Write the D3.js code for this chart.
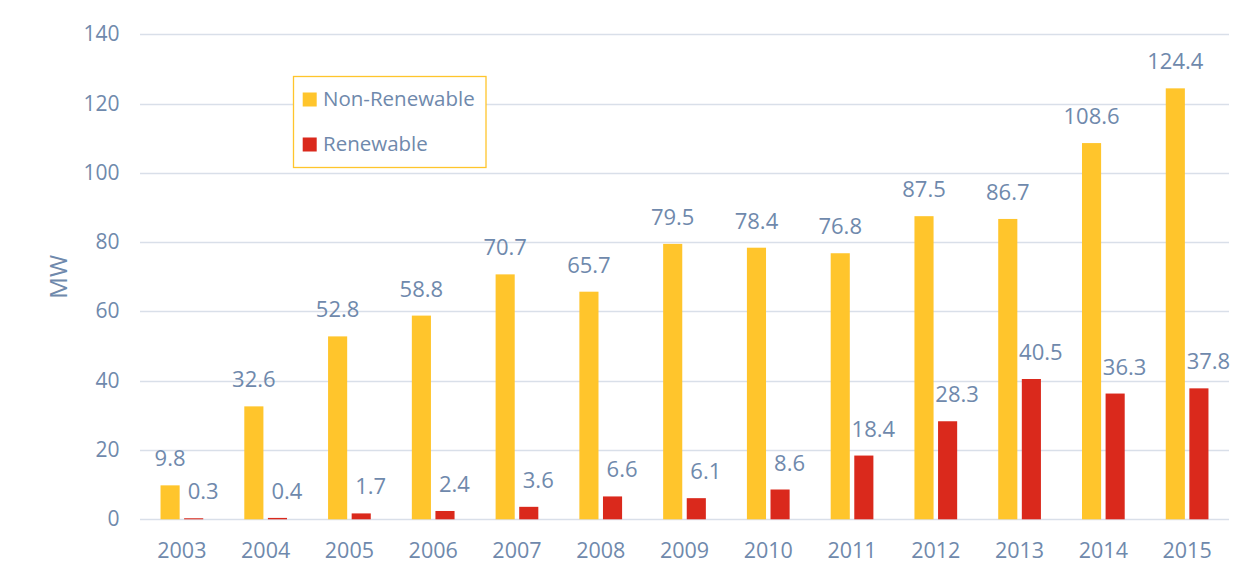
<!DOCTYPE html>
<html>
<head>
<meta charset="utf-8">
<script src="https://cdn.jsdelivr.net/npm/d3@7/dist/d3.min.js"></script>
<style>
  html, body { margin: 0; padding: 0; background: #ffffff; }
  svg { display: block; }
  text { font-family: "Open Sans", "Noto Sans", sans-serif; fill: #6f89ac; }
</style>
</head>
<body>
<svg id="chart" width="1254" height="577"></svg>
<script>
// Installed capacity by year (MW)
const years = ["2003", "2004", "2005", "2006", "2007", "2008", "2009", "2010", "2011", "2012", "2013", "2014", "2015"];
const nonRenewable = [9.8, 32.6, 52.8, 58.8, 70.7, 65.7, 79.5, 78.4, 76.8, 87.5, 86.7, 108.6, 124.4];
const renewable = [0.3, 0.4, 1.7, 2.4, 3.6, 6.6, 6.1, 8.6, 18.4, 28.3, 40.5, 36.3, 37.8];
const seriesNames = ["Non-Renewable", "Renewable"];
const seriesColors = ["#ffc52c", "#da291c"];
const yTicks = [0, 20, 40, 60, 80, 100, 120, 140];
const yLabel = "MW";

const svg = d3.select("#chart");
const plot = { left: 140, right: 1229, top: 34.3, bottom: 519.3 };

const x0 = d3.scaleBand().domain(years).range([plot.left, plot.right]).padding(0);
const x1 = d3.scaleBand().domain(seriesNames).range([0, x0.bandwidth()])
  .paddingInner(0.19).paddingOuter(0.87);
const y = d3.scaleLinear().domain([0, 140]).range([plot.bottom, plot.top]);

// horizontal gridlines
svg.append("g")
  .selectAll("line")
  .data(yTicks)
  .join("line")
  .attr("x1", plot.left).attr("x2", plot.right)
  .attr("y1", d => Math.round(y(d)) + 0.5).attr("y2", d => Math.round(y(d)) + 0.5)
  .attr("stroke", "#d9dfe9").attr("stroke-width", 1.3);

// y tick labels
svg.append("g")
  .selectAll("text")
  .data(yTicks)
  .join("text")
  .attr("x", 119.5)
  .attr("y", d => y(d) + 7)
  .attr("text-anchor", "end")
  .attr("font-size", 21)
  .text(d => d);

// y axis title
svg.append("text")
  .attr("transform", `translate(67,${(plot.top + plot.bottom) / 2}) rotate(-90)`)
  .attr("text-anchor", "middle")
  .attr("font-size", 24)
  .text(yLabel);

// x labels
svg.append("g")
  .selectAll("text")
  .data(years)
  .join("text")
  .attr("x", d => x0(d) + x0.bandwidth() / 2)
  .attr("y", 558.3)
  .attr("text-anchor", "middle")
  .attr("font-size", 21.5)
  .text(d => d);

const rows = years.map((yr, i) => ({ year: yr, values: [nonRenewable[i], renewable[i]] }));

const groups = svg.append("g")
  .selectAll("g")
  .data(rows)
  .join("g")
  .attr("transform", d => `translate(${x0(d.year)},0)`);

// bars
groups.selectAll("rect")
  .data(d => d.values.map((v, k) => ({ key: seriesNames[k], k, v })))
  .join("rect")
  .attr("x", d => x1(d.key))
  .attr("width", x1.bandwidth())
  .attr("y", d => y(d.v))
  .attr("height", d => y(0) - y(d.v))
  .attr("fill", d => seriesColors[d.k]);

// value labels
groups.selectAll("text")
  .data(d => d.values.map((v, k) => ({ key: seriesNames[k], k, v })))
  .join("text")
  .attr("x", d => x1(d.key) + x1.bandwidth() / 2 + (d.k === 1 ? 9.5 : 0))
  .attr("y", d => y(d.v) - 19)
  .attr("text-anchor", "middle")
  .attr("font-size", 22)
  .text(d => d.v.toFixed(1));

// legend
const legend = svg.append("g");
legend.append("rect")
  .attr("x", 293.5).attr("y", 76.5)
  .attr("width", 192.5).attr("height", 91)
  .attr("fill", "#ffffff")
  .attr("stroke", "#ffc52c").attr("stroke-width", 1.3);
const legendRows = [106, 151];
seriesNames.forEach((name, k) => {
  legend.append("rect")
    .attr("x", 302.7).attr("y", legendRows[k] - 13.5)
    .attr("width", 14).attr("height", 14)
    .attr("fill", seriesColors[k]);
  legend.append("text")
    .attr("x", 323)
    .attr("y", legendRows[k])
    .attr("font-size", 20.5)
    .text(name);
});
</script>
</body>
</html>
